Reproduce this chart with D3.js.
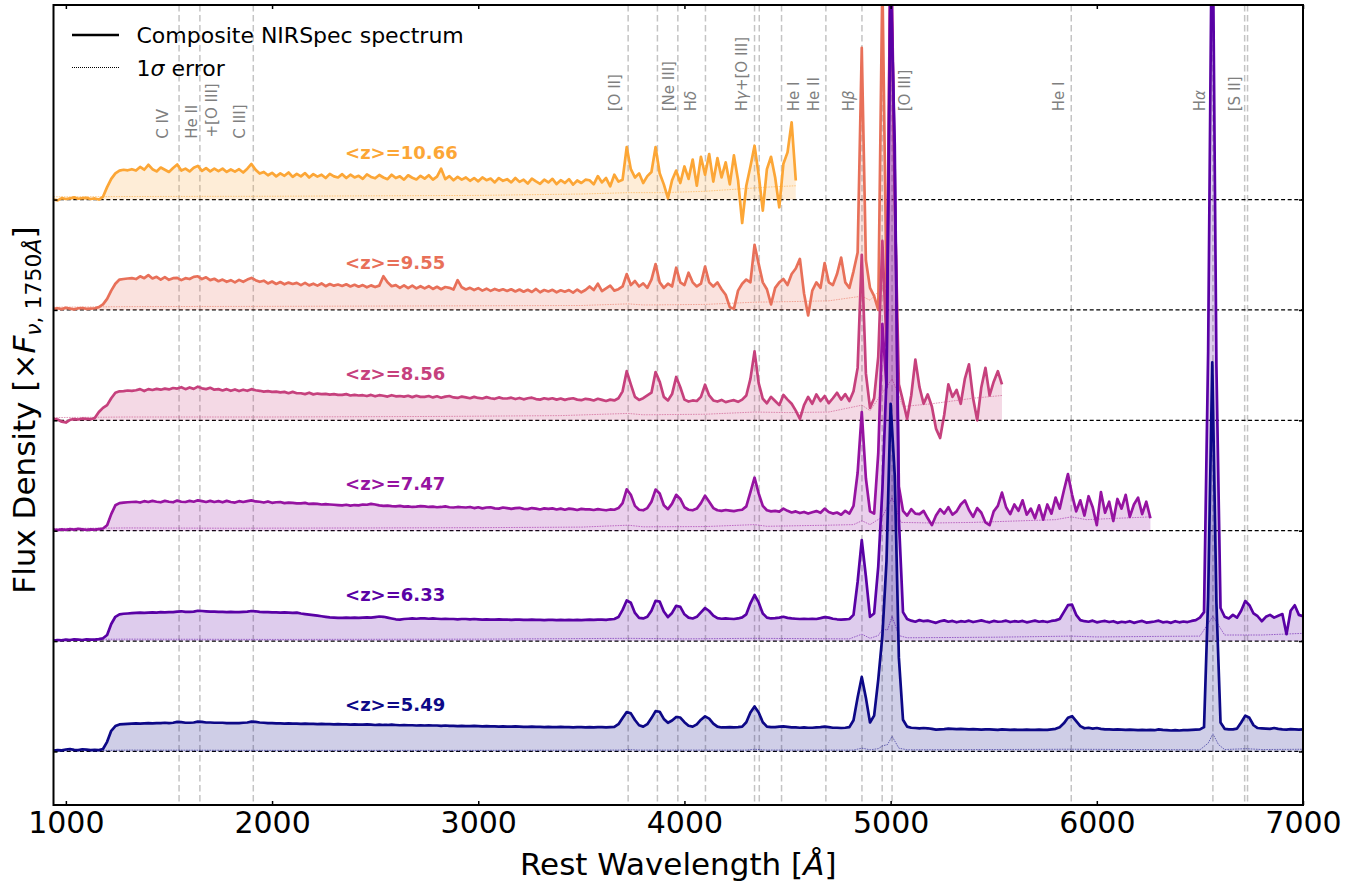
<!DOCTYPE html>
<html><head><meta charset="utf-8">
<script src="https://cdn.jsdelivr.net/npm/d3@7"></script>
<style>body{margin:0;background:#fff}svg{display:block}text{font-family:"DejaVu Sans",sans-serif}</style>
</head><body><svg id="c" width="1361" height="886"></svg>
<script>
// ---------------- data ----------------
const redshifts = ["5.49","6.33","7.47","8.56","9.55","10.66"];
const offsets = [0,4,8,12,16,20];
const gridStep = 20; // Angstrom between samples inside each chunk [startWave, values]

const flux549 = [
[940,[0.03,0.05,0.04,0.07,0.09,0.06,0.05,0.08,0.07,0.05]],
[1140,[0.06,0.05,0.09,0.35,0.75,0.92,0.98,0.99,1.00,1.01]],
[1340,[1.02,1.01,1.02,1.03,1.02,1.03,1.03,1.04,1.03,1.04]],
[1540,[1.07,1.06,1.04,1.04,1.05,1.08,1.07,1.05,1.05,1.04]],
[1740,[1.04,1.04,1.03,1.03,1.03,1.03,1.04,1.05,1.08,1.07]],
[1940,[1.05,1.04,1.03,1.03,1.02,1.02,1.01,1.02,1.01,1.01]],
[2140,[1.00,1.01,1.00,1.00,0.99,1.00,0.99,0.99,0.98,0.99]],
[2340,[0.98,0.98,0.97,0.98,0.97,0.97,0.98,0.97,0.96,0.97]],
[2540,[0.96,0.96,0.97,0.96,0.95,0.96,0.95,0.95,0.94,0.95]],
[2740,[0.94,0.95,0.94,0.94,0.93,0.94,0.93,0.93,0.92,0.93]],
[2940,[0.92,0.92,0.93,0.92,0.91,0.92,0.91,0.91,0.90,0.91]],
[3140,[0.90,0.90,0.91,0.90,0.89,0.89,0.90,0.89,0.89,0.88]],
[3340,[0.89,0.88,0.88,0.89,0.88,0.88,0.87,0.88,0.88,0.87]],
[3540,[0.88,0.87,0.88,0.88,0.87,0.88,0.89,0.99,1.21,1.43]],
[3740,[1.38,1.14,0.95,0.90,0.99,1.21,1.46,1.44,1.18,1.04]],
[3940,[1.12,1.25,1.23,1.06,0.93,0.90,0.98,1.15,1.27,1.19]],
[4140,[1.01,0.90,0.87,0.87,0.88,0.87,0.88,0.90,1.06,1.41]],
[4340,[1.63,1.41,1.06,0.90,0.88,0.88,0.90,0.91,0.89,0.87]],
[4540,[0.87,0.86,0.87,0.86,0.86,0.87,0.88,0.90,0.88,0.86]],
[4740,[0.86,0.85,0.86,0.88,1.13,1.96,2.70,1.95,1.05,1.30]],
[4940,[2.60,4.20,6.90,12.6,10.0,3.40,1.15,0.90,0.86,0.85]],
[5140,[0.84,0.85,0.84,0.82,0.79,0.80,0.81,0.83,0.82,0.81]],
[5340,[0.82,0.81,0.80,0.81,0.80,0.79,0.80,0.80,0.79,0.78]],
[5540,[0.80,0.79,0.78,0.79,0.78,0.78,0.79,0.78,0.78,0.79]],
[5740,[0.78,0.78,0.80,0.82,0.88,1.02,1.22,1.28,1.10,0.92]],
[5940,[0.84,0.86,0.83,0.85,0.82,0.80,0.80,0.79,0.80,0.79]],
[6140,[0.78,0.79,0.78,0.77,0.78,0.77,0.78,0.77,0.80,0.78]],
[6340,[0.77,0.76,0.77,0.76,0.77,0.77,0.78,0.79,0.80,0.88]],
[6540,[5.60,14.1,5.40,1.05,0.82,0.80,0.80,0.83,1.05,1.30]],
[6740,[1.22,0.95,0.85,0.84,0.83,0.82,0.85,0.82,0.80,0.79]],
[6940,[0.81,0.80,0.79,0.80]]
];
const flux633 = [
[940,[0.02,0.04,0.03,0.05,0.04,0.06,0.05,0.04,0.06,0.05]],
[1140,[0.05,0.07,0.10,0.22,0.62,0.88,0.97,0.99,1.00,1.01]],
[1340,[1.02,1.03,1.02,1.03,1.04,1.03,1.05,1.04,1.05,1.05]],
[1540,[1.07,1.08,1.06,1.06,1.07,1.10,1.09,1.08,1.07,1.07]],
[1740,[1.06,1.06,1.05,1.06,1.05,1.05,1.06,1.07,1.09,1.08]],
[1940,[1.06,1.05,1.05,1.04,1.04,1.03,1.04,1.03,1.02,1.03]],
[2140,[1.00,0.98,0.96,0.94,0.92,0.90,0.88,0.86,0.85,0.84]],
[2340,[0.84,0.85,0.84,0.85,0.84,0.85,0.86,0.85,0.87,0.89]],
[2540,[0.88,0.85,0.82,0.79,0.78,0.80,0.81,0.82,0.81,0.82]],
[2740,[0.82,0.81,0.82,0.81,0.80,0.81,0.80,0.80,0.79,0.80]],
[2940,[0.80,0.79,0.80,0.79,0.78,0.79,0.78,0.78,0.79,0.78]],
[3140,[0.78,0.77,0.78,0.78,0.77,0.77,0.78,0.77,0.77,0.76]],
[3340,[0.77,0.77,0.76,0.77,0.76,0.77,0.76,0.77,0.76,0.77]],
[3540,[0.78,0.77,0.78,0.78,0.77,0.79,0.80,0.87,1.13,1.47]],
[3740,[1.39,1.02,0.84,0.82,0.88,1.10,1.46,1.43,1.07,0.87]],
[3940,[1.02,1.28,1.24,0.97,0.85,0.82,0.88,1.04,1.20,1.09]],
[4140,[0.92,0.83,0.81,0.82,0.81,0.80,0.82,0.86,0.97,1.37]],
[4340,[1.67,1.40,1.00,0.85,0.82,0.83,0.85,0.88,0.84,0.82]],
[4540,[0.81,0.80,0.81,0.80,0.81,0.80,0.83,0.87,0.85,0.81]],
[4740,[0.79,0.78,0.79,0.80,0.95,2.15,3.66,2.35,0.88,1.00]],
[4940,[2.70,5.50,9.50,24.0,18.0,4.40,1.05,0.80,0.74,0.70]],
[5140,[0.76,0.72,0.74,0.70,0.66,0.72,0.75,0.70,0.73,0.68]],
[5340,[0.72,0.70,0.74,0.69,0.72,0.75,0.71,0.68,0.73,0.70]],
[5540,[0.71,0.74,0.69,0.72,0.70,0.73,0.68,0.71,0.74,0.70]],
[5740,[0.72,0.69,0.73,0.75,0.80,1.05,1.30,1.32,0.95,0.76]],
[5940,[0.72,0.70,0.74,0.68,0.71,0.73,0.69,0.72,0.66,0.70]],
[6140,[0.68,0.72,0.66,0.70,0.73,0.67,0.69,0.71,0.74,0.68]],
[6340,[0.70,0.66,0.72,0.68,0.71,0.69,0.73,0.76,0.85,1.05]],
[6540,[10.5,28.0,10.0,1.20,0.88,0.82,0.95,0.85,1.10,1.45]],
[6740,[1.30,1.00,0.90,0.72,0.88,0.95,0.85,0.92,0.98,0.25]],
[6940,[1.10,1.30,0.95,0.90]]
];
const flux747 = [
[940,[0.04,0.02,0.05,0.03,0.06,0.04,0.07,0.05,0.03,0.05]],
[1140,[0.04,0.06,0.08,0.20,0.60,0.92,1.00,1.02,1.03,1.04]],
[1340,[1.05,1.02,1.07,1.04,1.08,1.05,1.03,1.08,1.05,1.03]],
[1540,[1.09,1.05,1.04,1.08,1.05,1.10,1.07,1.04,1.08,1.04]],
[1740,[1.07,1.03,1.08,1.04,1.02,1.07,1.04,1.07,1.10,1.06]],
[1940,[1.05,1.02,1.06,1.01,1.03,1.04,1.00,1.02,1.01,0.99]],
[2140,[0.99,1.01,0.97,0.98,0.97,0.95,0.96,0.95,0.94,0.93]],
[2340,[0.92,0.94,0.91,0.93,0.92,0.95,0.94,0.97,0.95,0.92]],
[2540,[0.90,0.91,0.89,0.88,0.90,0.87,0.88,0.86,0.87,0.89]],
[2740,[0.88,0.86,0.87,0.85,0.86,0.88,0.85,0.84,0.86,0.85]],
[2940,[0.84,0.86,0.82,0.85,0.81,0.84,0.85,0.81,0.80,0.84]],
[3140,[0.82,0.79,0.82,0.83,0.79,0.78,0.82,0.80,0.77,0.81]],
[3340,[0.79,0.81,0.77,0.80,0.76,0.80,0.78,0.75,0.79,0.77]],
[3540,[0.77,0.75,0.78,0.76,0.74,0.77,0.76,0.82,1.00,1.50]],
[3740,[1.30,0.90,0.76,0.74,0.82,1.05,1.49,1.35,0.92,0.78]],
[3940,[0.98,1.30,1.15,0.85,0.76,0.74,0.80,1.00,1.27,1.05]],
[4140,[0.82,0.74,0.72,0.75,0.73,0.71,0.74,0.76,0.88,1.40]],
[4340,[1.92,1.35,0.90,0.74,0.70,0.72,0.69,0.80,0.72,0.66]],
[4540,[0.70,0.64,0.68,0.62,0.67,0.71,0.65,0.80,0.68,0.62]],
[4740,[0.66,0.58,0.72,0.62,0.90,2.10,4.30,1.90,0.70,0.62]],
[4940,[2.80,7.50,5.20,22.0,13.0,1.60,0.72,0.55,0.78,0.62]],
[5140,[0.60,0.72,0.45,0.20,0.55,0.78,0.62,0.85,0.58,0.70]],
[5340,[0.95,1.10,0.75,0.50,0.82,0.65,0.30,0.20,0.70,0.90]],
[5540,[1.38,0.85,0.60,0.95,0.72,1.10,0.58,0.80,0.45,0.92]],
[5740,[0.40,0.95,0.62,1.20,0.80,1.45,2.05,1.30,0.70,1.10]],
[5940,[0.55,1.25,0.85,0.20,1.40,0.65,1.05,0.35,1.15,0.80]],
[6140,[1.30,0.50,0.95,1.20,0.60,1.05,0.45]]
];
const flux856 = [
[940,[0.05,0.03,-0.05,-0.08,0.02,0.04,0.03,0.06,0.05,0.04]],
[1140,[0.08,0.30,0.45,0.55,0.80,1.00,1.05,1.06,1.08,1.07]],
[1340,[1.09,1.13,1.06,1.13,1.10,1.14,1.11,1.15,1.12,1.17]],
[1540,[1.15,1.20,1.13,1.19,1.14,1.22,1.16,1.13,1.18,1.11]],
[1740,[1.13,1.08,1.13,1.07,1.12,1.06,1.11,1.07,1.13,1.09]],
[1940,[1.07,1.04,1.06,1.03,1.04,1.01,1.03,0.98,1.03,0.98]],
[2140,[0.98,0.95,1.00,0.94,0.97,0.95,0.96,0.93,0.95,0.92]],
[2340,[0.92,0.95,0.90,0.92,0.90,0.91,0.88,0.92,0.87,0.91]],
[2540,[0.89,0.86,0.91,0.87,0.88,0.86,0.89,0.84,0.89,0.85]],
[2740,[0.85,0.88,0.83,0.87,0.82,0.86,0.88,0.83,0.81,0.86]],
[2940,[0.83,0.80,0.85,0.81,0.79,0.84,0.80,0.78,0.83,0.79]],
[3140,[0.79,0.82,0.77,0.81,0.76,0.80,0.82,0.77,0.75,0.80]],
[3340,[0.77,0.80,0.75,0.79,0.74,0.78,0.80,0.75,0.73,0.78]],
[3540,[0.76,0.72,0.78,0.74,0.70,0.75,0.72,0.80,1.05,1.78]],
[3740,[1.30,0.85,0.74,0.80,0.90,1.00,1.75,1.40,0.85,0.72]],
[3940,[0.95,1.57,1.20,0.75,0.68,0.72,0.70,0.85,1.29,0.90]],
[4140,[0.72,0.68,0.74,0.66,0.70,0.73,0.67,0.75,0.90,1.50]],
[4340,[2.50,1.35,0.78,0.62,0.85,0.70,0.55,0.92,0.75,0.60]],
[4540,[0.35,0.05,0.55,0.85,0.60,0.94,0.70,0.88,0.62,0.80]],
[4740,[1.00,0.75,0.95,0.70,1.05,1.90,6.00,1.70,0.45,0.80]],
[4940,[2.30,6.50,2.70,18.0,8.00,1.30,0.70,0.05,0.90,2.20]],
[5140,[1.20,0.60,0.94,0.50,-0.30,-0.64,0.20,1.30,0.85,1.10]],
[5340,[0.60,1.50,2.03,0.80,0.00,1.20,1.90,0.90,1.40,1.78]],
[5540,[1.30]]
];
const flux955 = [
[940,[0.04,0.06,0.03,0.08,0.05,0.02,0.06,0.07,0.04,0.05]],
[1140,[0.06,0.10,0.20,0.40,0.70,0.95,1.10,1.12,1.14,1.15]],
[1340,[1.12,1.22,1.15,1.26,1.14,1.20,1.10,1.19,1.09,1.15]],
[1540,[1.16,1.08,1.15,1.12,1.20,1.22,1.12,1.18,1.08,1.13]],
[1740,[1.04,1.10,1.02,1.08,1.00,1.09,1.02,1.10,1.16,1.08]],
[1940,[1.02,1.06,0.96,1.03,0.94,1.01,0.93,0.99,0.94,0.98]],
[2140,[0.90,0.98,0.89,0.95,0.88,0.96,0.86,0.94,0.88,0.92]],
[2340,[0.87,0.93,0.85,0.91,0.84,0.90,0.82,0.89,0.83,0.88]],
[2540,[1.22,1.00,0.86,0.90,0.80,0.89,0.79,0.88,0.78,0.86]],
[2740,[0.78,0.86,0.76,0.84,0.75,0.83,0.80,0.74,1.08,0.82]],
[2940,[0.74,0.80,0.72,0.79,0.70,0.77,0.69,0.76,0.70,0.75]],
[3140,[0.69,0.75,0.67,0.74,0.66,0.73,0.65,0.76,0.64,0.72]],
[3340,[0.67,0.73,0.64,0.71,0.66,0.72,0.63,0.74,0.64,0.72]],
[3540,[0.85,0.72,0.95,0.68,0.78,0.88,0.70,0.75,0.85,1.30]],
[3740,[0.90,1.05,0.85,0.96,0.80,1.10,1.66,1.00,0.80,0.95]],
[3940,[0.85,1.53,1.00,0.90,1.35,1.00,0.85,0.95,1.57,1.00]],
[4140,[0.85,1.00,0.75,0.55,0.10,0.04,0.70,0.95,1.10,1.00]],
[4340,[2.36,1.67,1.00,0.75,0.20,0.80,1.00,1.12,0.90,1.30]],
[4540,[1.50,1.85,0.60,-0.20,0.70,1.00,0.80,1.70,1.00,0.90]],
[4740,[1.30,1.90,1.00,0.80,1.40,2.08,9.50,1.80,0.80,0.50]],
[4940,[0.00,12.0,0.80]]
];
const flux1066 = [
[940,[0.00,-0.03,0.05,0.02,0.04,0.08,0.03,0.05,0.06,0.02]],
[1140,[0.04,0.00,0.10,0.45,0.75,0.95,1.05,1.08,1.06,1.10]],
[1340,[1.05,1.18,1.08,1.26,1.10,1.02,1.16,1.08,1.00,1.14]],
[1540,[1.27,1.05,1.12,1.02,1.15,1.22,1.04,1.14,1.02,1.12]],
[1740,[1.03,1.12,1.00,1.09,1.01,1.10,0.98,1.12,1.29,1.08]],
[1940,[0.94,1.00,0.88,0.97,0.84,0.95,0.86,0.98,0.82,0.93]],
[2140,[0.84,0.96,0.80,0.92,0.83,0.90,0.78,0.93,0.84,0.80]],
[2340,[0.92,0.78,0.90,0.80,0.86,0.75,0.91,0.82,0.77,0.89]],
[2540,[0.80,0.74,0.90,0.78,0.84,0.72,0.88,0.79,0.73,0.86]],
[2740,[0.76,0.88,0.72,0.83,1.12,0.74,0.85,0.70,0.82,0.72]],
[2940,[0.80,0.68,0.78,0.66,0.80,0.70,0.76,0.62,0.78,0.68]],
[3140,[0.74,0.62,0.78,0.64,0.72,0.58,0.76,0.66,0.57,0.72]],
[3340,[0.62,0.75,0.56,0.70,0.60,0.74,0.54,0.69,0.60,0.72]],
[3540,[0.70,0.55,0.85,0.62,0.78,0.48,0.90,0.65,0.72,1.90]],
[3740,[1.10,0.80,0.95,0.60,0.85,1.00,1.90,0.95,0.55,0.05]],
[3940,[0.70,1.05,0.60,1.20,0.75,1.45,0.50,1.55,0.90,1.65]],
[4140,[0.65,1.50,0.80,1.35,0.55,1.60,0.70,-0.85,0.50,1.20]],
[4340,[1.95,0.90,-0.40,1.10,1.55,0.80,-0.28,1.30,1.71,2.80]],
[4540,[0.69]]
];

// 1-sigma error spectra: [wavelength, error]
const err549 = [[940,0.04],[1200,0.04],[1300,0.05],[2000,0.04],[3000,0.04],[3700,0.05],[3727,0.07],[3780,0.05],[4300,0.05],[4340,0.08],[4400,0.05],[4820,0.05],[4861,0.12],[4900,0.06],[4940,0.1],[4960,0.2],[4985,0.25],[5007,0.55],[5040,0.12],[5080,0.06],[5876,0.08],[6500,0.06],[6540,0.3],[6563,0.64],[6590,0.25],[6620,0.07],[6725,0.1],[6800,0.07],[7000,0.08]];
const err633 = [[940,0.06],[1300,0.07],[2000,0.06],[3000,0.07],[3727,0.1],[4000,0.08],[4340,0.1],[4800,0.08],[4861,0.25],[4900,0.1],[4940,0.2],[4960,0.43],[4985,0.4],[5007,0.9],[5040,0.2],[5080,0.12],[5500,0.14],[5876,0.18],[6000,0.15],[6300,0.17],[6500,0.18],[6563,0.9],[6620,0.22],[6800,0.22],[7000,0.28]];
const err747 = [[940,0.08],[1300,0.1],[1800,0.09],[2500,0.1],[3000,0.11],[3500,0.13],[3727,0.2],[3800,0.14],[4100,0.15],[4340,0.22],[4400,0.16],[4700,0.2],[4820,0.22],[4861,0.36],[4900,0.22],[4960,0.5],[5007,1.2],[5050,0.3],[5200,0.28],[5400,0.3],[5600,0.35],[5800,0.4],[5876,0.5],[5950,0.4],[6100,0.45],[6260,0.5]];
const err856 = [[940,0.1],[1300,0.12],[2000,0.12],[2800,0.14],[3400,0.17],[3727,0.25],[3800,0.2],[4100,0.22],[4340,0.3],[4500,0.28],[4700,0.3],[4861,0.55],[4900,0.35],[5007,1.5],[5060,0.5],[5200,0.6],[5300,0.7],[5400,0.8],[5540,0.9]];
const err955 = [[940,0.1],[1300,0.12],[2000,0.13],[3000,0.15],[3500,0.16],[3727,0.22],[3800,0.18],[4100,0.2],[4340,0.28],[4500,0.3],[4700,0.33],[4861,0.5],[4900,0.35],[4960,0.8],[4980,0.4]];
const err1066 = [[940,0.1],[1300,0.11],[2000,0.12],[3000,0.15],[3500,0.2],[3727,0.25],[3900,0.25],[4100,0.3],[4300,0.4],[4400,0.45],[4540,0.5]];

const fluxes = [flux549, flux633, flux747, flux856, flux955, flux1066];
const errors = [err549, err633, err747, err856, err955, err1066];

const xTicks = [1000,2000,3000,4000,5000,6000,7000];
const lineWaves = [1549,1650,1909,3727,3869,3968,4102,4340,4363,4471,4686,4861,4959,5007,5876,6563,6717,6731];
const lineNames = ["C IV","He II","+[O III]","C III]","[O II]","[Ne III]","Hδ","Hγ+[O III]","He I","He II","Hβ","[O III]","He I","Hα","[S II]"];
const lineNameWaves = [1472,1610,1707,1841,3660,3925,4030,4278,4528,4625,4795,5069,5813,6500,6670];
const lineNameLevels = [22.2,22.2,22.25,22.2,23.2,23.2,23.2,23.2,23.2,23.2,23.2,23.2,23.2,23.2,23.2];
const zLabelWave = 2354, zLabelLevel = 1.47;

// ---------------- drawing ----------------
const svg = d3.select("#c");
const x = d3.scaleLinear().domain([940,7000]).range([53.5,1303]);
const y = d3.scaleLinear().domain([-1.94,27.05]).range([805,5]);
const color = i => d3.interpolatePlasma(i*0.16);
const expand = chunks => chunks.flatMap(([s,vals]) => vals.map((v,i)=>[s+gridStep*i, v]));

svg.append("defs").append("clipPath").attr("id","clip").append("rect")
  .attr("x",x.range()[0]).attr("y",y.range()[1])
  .attr("width",x.range()[1]-x.range()[0]).attr("height",y.range()[0]-y.range()[1]);
const plot = svg.append("g").attr("clip-path","url(#clip)");

// emission line markers
plot.selectAll("line.em").data(lineWaves).join("line").attr("class","em")
  .attr("x1",d=>x(d)).attr("x2",d=>x(d)).attr("y1",y.range()[1]).attr("y2",y.range()[0])
  .attr("stroke","#c4c4c4").attr("stroke-width",1.5).attr("stroke-dasharray","6.5,3.5");

// zero lines
plot.selectAll("line.base").data(offsets).join("line").attr("class","base")
  .attr("x1",x.range()[0]).attr("x2",x.range()[1]).attr("y1",d=>y(d)).attr("y2",d=>y(d))
  .attr("stroke","#000").attr("stroke-width",1.2).attr("stroke-dasharray","4,2.6");

// spectra, highest z first
for (let i = fluxes.length-1; i >= 0; i--) {
  const off = offsets[i], c = color(i), pts = expand(fluxes[i]);
  plot.append("path").datum(pts)
    .attr("d", d3.area().x(d=>x(d[0])).y0(y(off)).y1(d=>y(off+d[1])))
    .attr("fill", c).attr("fill-opacity",0.2).attr("stroke","none");
  plot.append("path").datum(errors[i])
    .attr("d", d3.line().x(d=>x(d[0])).y(d=>y(off+d[1])))
    .attr("fill","none").attr("stroke",c).attr("stroke-width",0.9)
    .attr("stroke-dasharray","1.6,1").attr("opacity",0.6);
  plot.append("path").datum(pts)
    .attr("d", d3.line().x(d=>x(d[0])).y(d=>y(off+d[1])))
    .attr("fill","none").attr("stroke",c).attr("stroke-width",2.7)
    .attr("stroke-linejoin","round");
}

// redshift labels
redshifts.forEach((z,i)=>{
  svg.append("text").attr("x",x(zLabelWave)).attr("y",y(offsets[i]+zLabelLevel))
    .attr("font-size",18).attr("font-weight","bold").attr("fill",color(i))
    .text("<z>="+z);
});

// rich text helper: italic greek letters
function rich(sel, str){
  str.split(/([αβγδσν])/).forEach(p=>{
    if(!p) return;
    const t = sel.append("tspan").text(p);
    if(/[αβγδσν]/.test(p)) t.attr("font-style","italic");
  });
}

// emission line names
lineNames.forEach((n,i)=>{
  const t = svg.append("text")
    .attr("transform",`translate(${x(lineNameWaves[i])},${y(lineNameLevels[i])}) rotate(-90)`)
    .attr("dy","0.35em").attr("font-size",15).attr("fill","#7f7f7f");
  rich(t,n);
});

// axes
const gx = svg.append("g").attr("transform",`translate(0,${y.range()[0]})`)
  .call(d3.axisBottom(x).tickValues(xTicks).tickSize(-4).tickPadding(7).tickFormat(d3.format("d")));
const gxt = svg.append("g").attr("transform",`translate(0,${y.range()[1]})`)
  .call(d3.axisTop(x).tickValues(xTicks).tickSize(-4).tickFormat(""));
const gyr = svg.append("g").attr("transform",`translate(${x.range()[1]},0)`)
  .call(d3.axisRight(y).tickValues(offsets).tickSize(-4).tickFormat(""));
const gyl = svg.append("g").attr("transform",`translate(${x.range()[0]},0)`)
  .call(d3.axisLeft(y).tickValues(offsets).tickSize(-4).tickFormat(""));
[gx,gxt,gyr,gyl].forEach(g=>{
  g.select(".domain").remove();
  g.selectAll(".tick line").attr("stroke","#000").attr("stroke-width",1.5);
});
gx.selectAll(".tick text").attr("font-size",30).attr("font-family","DejaVu Sans").attr("fill","#000");

// frame
svg.append("rect").attr("x",x.range()[0]).attr("y",y.range()[1])
  .attr("width",x.range()[1]-x.range()[0]).attr("height",y.range()[0]-y.range()[1])
  .attr("fill","none").attr("stroke","#000").attr("stroke-width",2);

// axis titles
const xl = svg.append("text").attr("x",(x.range()[0]+x.range()[1])/2).attr("y",875)
  .attr("text-anchor","middle").attr("font-size",31);
xl.append("tspan").text("Rest Wavelength [");
xl.append("tspan").attr("font-style","italic").text("Å");
xl.append("tspan").text("]");

const yl = svg.append("text").attr("transform","translate(35,410) rotate(-90)")
  .attr("text-anchor","middle").attr("font-size",31);
yl.append("tspan").text("Flux Density [×");
yl.append("tspan").attr("font-style","italic").text("F");
yl.append("tspan").attr("font-size",22).attr("dy",6).attr("font-style","italic").text("ν");
yl.append("tspan").attr("font-size",22).text(", 1750");
yl.append("tspan").attr("font-size",22).attr("font-style","italic").text("Å");
yl.append("tspan").attr("dy",-6).text("]");

// legend
const lg = svg.append("g");
lg.append("line").attr("x1",72).attr("x2",119).attr("y1",35).attr("y2",35)
  .attr("stroke","#000").attr("stroke-width",2.4);
lg.append("line").attr("x1",72).attr("x2",119).attr("y1",67.5).attr("y2",67.5)
  .attr("stroke","#000").attr("stroke-width",1).attr("stroke-dasharray","1,1");
lg.append("text").attr("x",136.5).attr("y",43.3).attr("font-size",22).text("Composite NIRSpec spectrum");
const le = lg.append("text").attr("x",136.5).attr("y",75.5).attr("font-size",22);
rich(le,"1σ error");
</script></body></html>
